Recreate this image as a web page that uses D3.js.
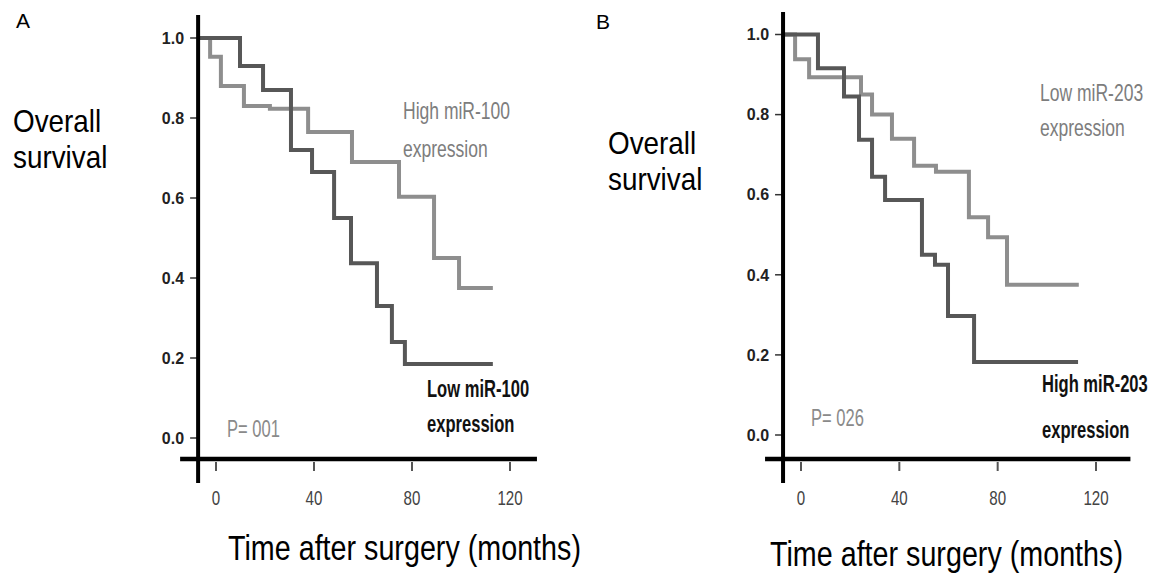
<!DOCTYPE html>
<html>
<head>
<meta charset="utf-8">
<script src="https://cdn.jsdelivr.net/npm/d3@7"></script>
<style>
  body { margin: 0; background: #fff; }
  svg { display: block; }
</style>
</head>
<body>
<div id="chart"></div>
<script type="text/javascript">
// tick values shared by both panels
var xTicks = [0, 40, 80, 120];
var yTicks = [0, 0.2, 0.4, 0.6, 0.8, 1.0];

// panel A, Kaplan-Meier steps: [months, survival]
var lowMiR100 = [[-7.3, 1.0], [9.8, 0.93], [19.2, 0.87], [30.6, 0.72], [39.2, 0.665],
  [48.2, 0.55], [55.1, 0.437], [65.7, 0.33], [71.8, 0.24], [77.1, 0.185], [113, 0.185]];
var highMiR100 = [[-7.3, 1.0], [-2.4, 0.953], [2, 0.88], [11.4, 0.83], [22, 0.823],
  [37.6, 0.765], [55.5, 0.69], [74.7, 0.603], [89, 0.45], [99.2, 0.375], [113, 0.375]];

// panel B
var highMiR203 = [[-7.3, 1.0], [6.9, 0.916], [17.5, 0.845], [23.6, 0.737], [28.9, 0.645],
  [34.2, 0.587], [49.2, 0.45], [54.5, 0.425], [59.8, 0.297], [70.4, 0.182], [112.7, 0.182]];
var lowMiR203 = [[-7.3, 1.0], [-2.4, 0.938], [3.3, 0.893], [24.4, 0.85], [28.9, 0.80],
  [37, 0.74], [46, 0.672], [54.9, 0.657], [68.3, 0.544], [76.1, 0.494], [83.8, 0.375], [113, 0.375]];

var darkLine = "#575757", lightLine = "#8e8e8e";
var narrow = "'Liberation Sans', Arial, sans-serif";

var svg = d3.select("#chart").append("svg")
    .attr("width", 1156)
    .attr("height", 582);

// text drawn horizontally squeezed, like Arial Narrow
function label(x, y, txt, size, weight, color, anchor, sx) {
  svg.append("text")
      .attr("transform", "translate(" + x + "," + y + ") scale(" + (sx || 0.82) + ",1)")
      .attr("text-anchor", anchor || "start")
      .style("font-family", narrow)
      .style("font-size", size + "px")
      .style("font-weight", weight)
      .style("fill", color)
      .text(txt);
}

function drawPanel(p) {
  var x = d3.scaleLinear().domain([0, 120]).range([p.x0, p.x120]);
  var y = d3.scaleLinear().domain([0, 1]).range([p.y0, p.y1]);
  var axisX = x(-7.3);

  var line = d3.line()
      .x(function(d) { return x(d[0]); })
      .y(function(d) { return y(d[1]); })
      .curve(d3.curveStepAfter);

  // y ticks + labels
  var gy = svg.append("g");
  gy.selectAll("line").data(yTicks).enter().append("line")
      .attr("x1", axisX - 8).attr("x2", axisX)
      .attr("y1", function(d) { return y(d); })
      .attr("y2", function(d) { return y(d); })
      .attr("stroke", "#333").attr("stroke-width", 1.5);
  gy.selectAll("text").data(yTicks).enter().append("text")
      .attr("x", axisX - 14)
      .attr("y", function(d) { return y(d); })
      .attr("dy", "0.36em")
      .attr("text-anchor", "end")
      .style("font-family", narrow)
      .style("font-size", "16px")
      .style("font-weight", "bold")
      .style("fill", "#222")
      .text(function(d) { return d.toFixed(1); });

  // x ticks + labels
  var gx = svg.append("g");
  gx.selectAll("line").data(xTicks).enter().append("line")
      .attr("x1", function(d) { return x(d); })
      .attr("x2", function(d) { return x(d); })
      .attr("y1", p.axisY + 3).attr("y2", p.axisY + 12)
      .attr("stroke", "#555").attr("stroke-width", 2);
  xTicks.forEach(function(d) {
    label(x(d), p.axisY + 46, d, 21, "normal", "#444", "middle", 0.72);
  });

  // curves
  svg.append("path").datum(p.light)
      .attr("d", line).attr("fill", "none")
      .attr("stroke", lightLine).attr("stroke-width", 4);
  svg.append("path").datum(p.dark)
      .attr("d", line).attr("fill", "none")
      .attr("stroke", darkLine).attr("stroke-width", 4);

  // axes lines
  svg.append("line")
      .attr("x1", axisX).attr("x2", axisX)
      .attr("y1", p.axisTop).attr("y2", p.axisY + 24)
      .attr("stroke", "#000").attr("stroke-width", 4);
  svg.append("line")
      .attr("x1", axisX - 18).attr("x2", x(p.xEnd))
      .attr("y1", p.axisY).attr("y2", p.axisY)
      .attr("stroke", "#000").attr("stroke-width", 4.5);
}

drawPanel({ x0: 216, x120: 510, y0: 438, y1: 38, axisY: 459, axisTop: 15, xEnd: 131,
  dark: lowMiR100, light: highMiR100 });
drawPanel({ x0: 801, x120: 1096, y0: 435, y1: 34.5, axisY: 459, axisTop: 12, xEnd: 134,
  dark: highMiR203, light: lowMiR203 });

// panel letters
svg.append("text").attr("x", 16).attr("y", 28)
    .style("font-family", narrow).style("font-size", "21px").text("A");
svg.append("text").attr("x", 596).attr("y", 29)
    .style("font-family", narrow).style("font-size", "21px").text("B");

// y titles
label(13, 132, "Overall", 32, "normal", "#000", "start", 0.87);
label(13, 168, "survival", 32, "normal", "#000", "start", 0.87);
label(608, 154, "Overall", 32, "normal", "#000", "start", 0.87);
label(608, 190, "survival", 32, "normal", "#000", "start", 0.87);

// x titles
label(228, 560, "Time after surgery (months)", 35, "normal", "#000");
label(770, 566, "Time after surgery (months)", 35, "normal", "#000");

// curve labels panel A
label(403, 119, "High miR-100", 24, "normal", "#7d7d7d", "start", 0.73);
label(403, 157, "expression", 24, "normal", "#7d7d7d", "start", 0.73);
label(427, 397, "Low miR-100", 23, "bold", "#111", "start", 0.72);
label(427, 432, "expression", 23, "bold", "#111", "start", 0.72);
label(227, 437, "P= 001", 23, "normal", "#8a8a8a", "start", 0.72);

// curve labels panel B
label(1040, 101, "Low miR-203", 24, "normal", "#7d7d7d", "start", 0.73);
label(1040, 136, "expression", 24, "normal", "#7d7d7d", "start", 0.73);
label(1042, 392, "High miR-203", 23, "bold", "#111", "start", 0.72);
label(1042, 438, "expression", 23, "bold", "#111", "start", 0.72);
label(811, 426, "P= 026", 23, "normal", "#8a8a8a", "start", 0.72);
</script>
</body>
</html>
